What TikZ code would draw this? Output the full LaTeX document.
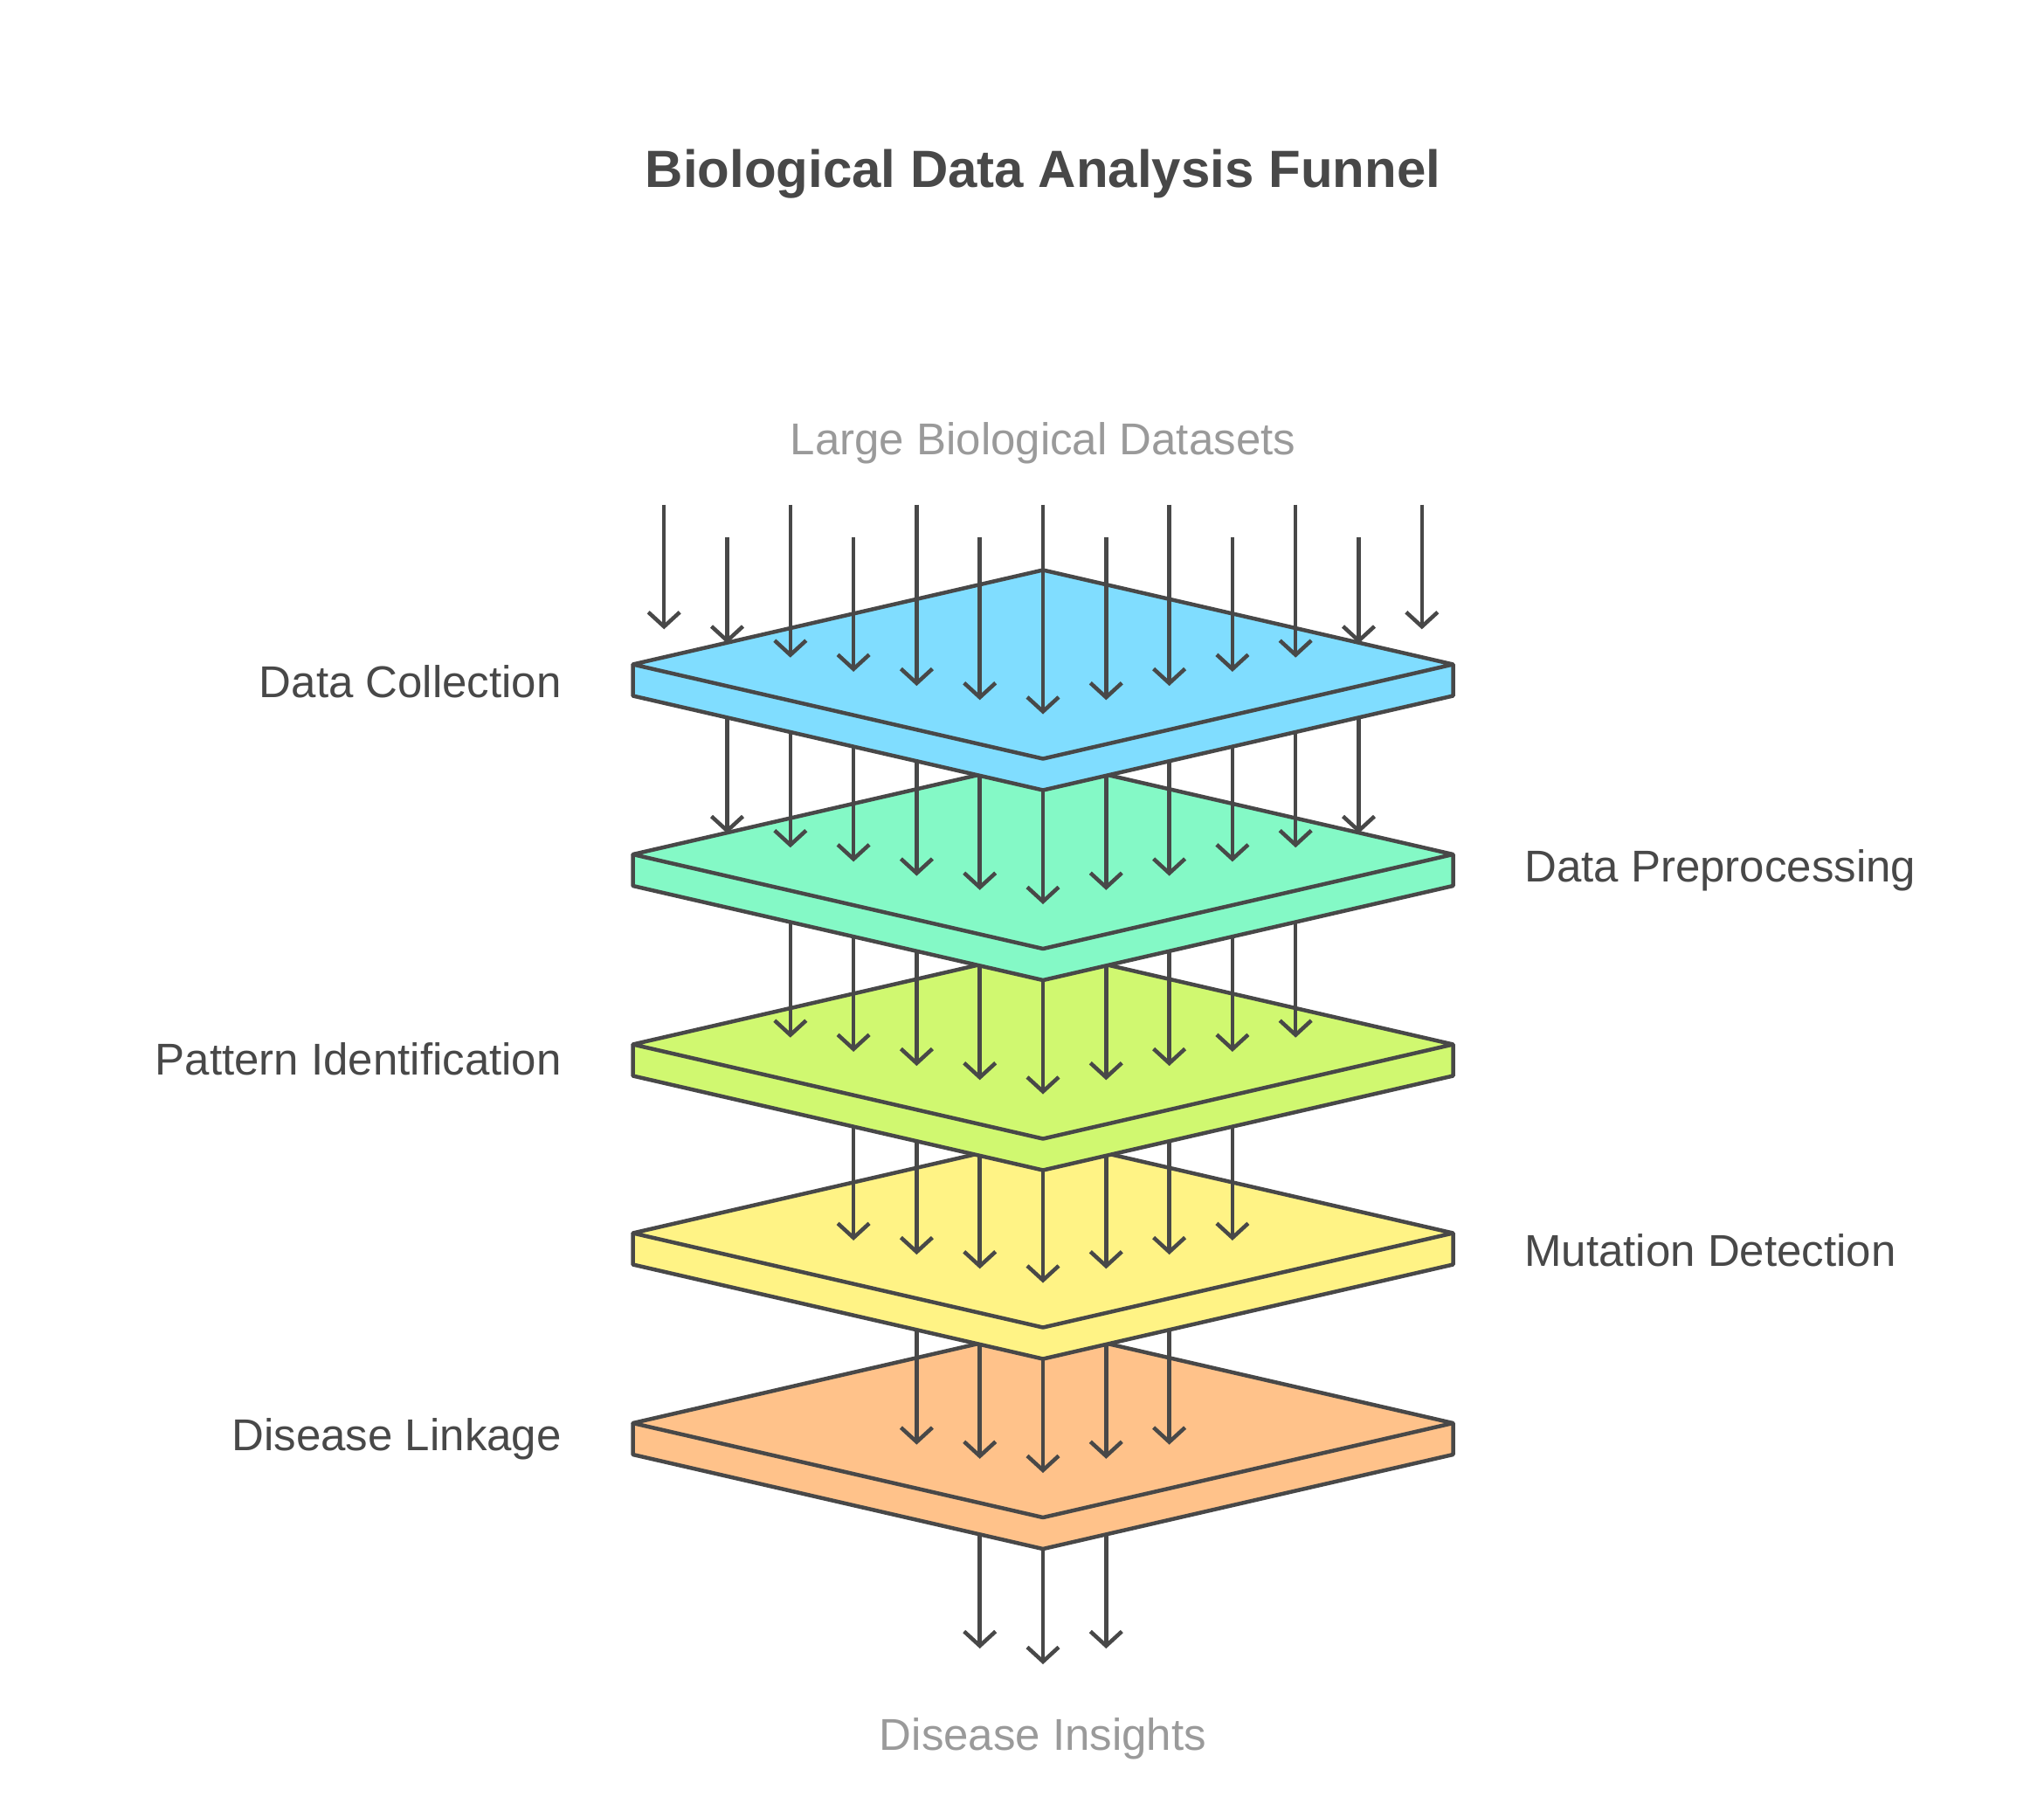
\documentclass[tikz,border=0pt]{standalone}
\usepackage{fontspec}
\setmainfont{Liberation Sans}
\usetikzlibrary{arrows.meta}
\definecolor{ink}{HTML}{484848}
\definecolor{gr}{HTML}{9A9A9A}
\definecolor{cA}{HTML}{80DDFF}
\definecolor{cB}{HTML}{84F9C6}
\definecolor{cC}{HTML}{D0F870}
\definecolor{cD}{HTML}{FFF385}
\definecolor{cE}{HTML}{FFC28A}
\begin{document}
\begin{tikzpicture}[x=1pt,y=-1pt,
  layer/.style={draw=ink,line width=3pt,line join=round},
  arr/.style={draw=ink,line width=3pt,-{Straight Barb[length=11pt,width=24pt,line width=3pt]}},
  lbl/.style={font=\fontsize{34}{40}\selectfont,text=ink},
  glbl/.style={font=\fontsize{34}{40}\selectfont,text=gr}]
\useasboundingbox (0,0) rectangle (1560,1370.7);
\newcommand{\layerat}[2]{%
  \fill[#2] (483,#1)--(483,#1+24)--(796,#1+96)--(1109,#1+24)--(1109,#1)--cycle;
  \draw[layer] (483,#1)--(483,#1+24)--(796,#1+96)--(1109,#1+24)--(1109,#1);
  \draw[layer,fill=#2] (483,#1)--(796,#1-72)--(1109,#1)--(796,#1+72)--cycle;}
\newcommand{\arrowsto}[3]{% center y, half-count, start y
  \foreach \k in {-#2,...,#2}{%
    \pgfmathsetmacro{\xx}{796+48.2*\k}%
    \pgfmathsetmacro{\ty}{#1+38-10.8*abs(\k)}%
    \draw[arr] (\xx,#3) -- (\xx,\ty);}}
% bottom arrows
\foreach \k in {-1,0,1}{%
  \pgfmathsetmacro{\xx}{796+48.2*\k}%
  \pgfmathsetmacro{\ty}{1270-12*abs(\k)}%
  \draw[arr] (\xx,1100) -- (\xx,\ty);}
\layerat{1086}{cE}
\arrowsto{1086}{2}{941}
\layerat{941}{cD}
\arrowsto{941}{3}{797}
\layerat{797}{cC}
\arrowsto{797}{4}{652}
\layerat{652}{cB}
\arrowsto{652}{5}{507}
\layerat{507}{cA}
\foreach \k in {-6,...,6}{%
  \pgfmathsetmacro{\xx}{796+48.2*\k}%
  \pgfmathsetmacro{\ty}{545-10.8*abs(\k)}%
  \pgfmathtruncatemacro{\od}{mod(abs(\k),2)}%
  \pgfmathsetmacro{\sy}{\od==0 ? 385 : 410}%
  \draw[arr] (\xx,\sy) -- (\xx,\ty);}
\node[font=\bfseries\fontsize{40}{46}\selectfont,text=ink] (title) at (796,133) {Biological Data Analysis Funnel};
\node[glbl] (in) at (796,338) {Large Biological Datasets};
\node[glbl] (out) at (796,1327) {Disease Insights};
\node[lbl,anchor=east] (l1) at (432,520) {Data Collection};
\node[lbl,anchor=west] (l2) at (1160,664) {Data Preprocessing};
\node[lbl,anchor=east] (l3) at (432,808) {Pattern Identification};
\node[lbl,anchor=west] (l4) at (1160,954) {Mutation Detection};
\node[lbl,anchor=east] (l5) at (432,1098) {Disease Linkage};
\end{tikzpicture}
\end{document}
